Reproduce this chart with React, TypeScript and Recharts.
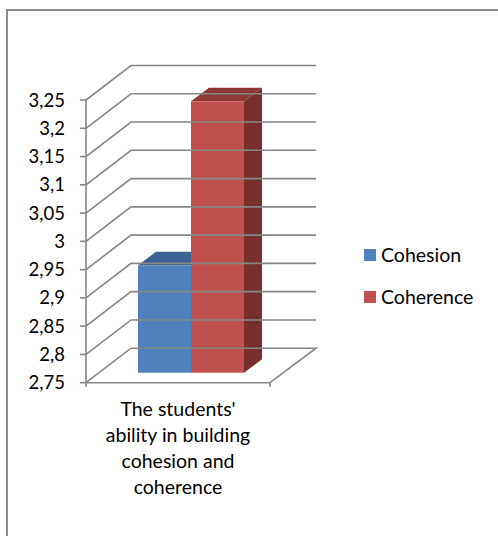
import React from "react";
import { BarChart, Bar, XAxis, YAxis, Legend } from "recharts";

const categories = ["The students' ability in building cohesion and coherence"];
const categoryLines = ["The students'", "ability in building", "cohesion and", "coherence"];
const cohesionValues = [2.94];
const coherenceValues = [3.23];
const yTicks = [2.75, 2.8, 2.85, 2.9, 2.95, 3, 3.05, 3.1, 3.15, 3.2, 3.25];

const data = categories.map((c, i) => ({
  category: c,
  Cohesion: cohesionValues[i],
  Coherence: coherenceValues[i],
}));

const FONT = "Lato, 'Open Sans', sans-serif";
const GRID = "#868686";
const LINE = 1.6;
const WALL_DX = 45;
const WALL_DY = 34.5;
const WALL_W = 185;

const YTick = (props: any) => {
  const { x, y, payload } = props;
  const isFloor = payload.value === yTicks[0];
  const bx = x + WALL_DX;
  const by = y - WALL_DY;
  return (
    <g>
      <path
        d={`M${x} ${y}L${bx} ${by}L${bx + WALL_W} ${by}${isFloor ? `L${x + 184} ${y}` : ""}`}
        fill="none"
        stroke={GRID}
        strokeWidth={LINE}
      />
      <line x1={x - 6} y1={y} x2={x} y2={y} stroke={GRID} strokeWidth={LINE} />
      <text x={x - 21} y={y + 6.5} textAnchor="end" fontFamily={FONT} fontSize={18.5} fill="#000">
        {String(payload.value).replace(".", ",")}
      </text>
    </g>
  );
};

const XTick = (props: any) => {
  const { x, y } = props;
  return (
    <g>
      <line x1={x - 92} y1={y} x2={x - 92} y2={y + 4} stroke={GRID} strokeWidth={LINE} />
      <line x1={x + 92} y1={y} x2={x + 92} y2={y + 4} stroke={GRID} strokeWidth={LINE} />
      <text textAnchor="middle" fontFamily={FONT} fontSize={19.5} fill="#000">
        {categoryLines.map((l, i) => (
          <tspan key={l} x={x} y={y + 33 + i * 26}>
            {l}
          </tspan>
        ))}
      </text>
    </g>
  );
};

const Box3D = (dark: string, side: string) => (props: any) => {
  const { x, y, width, height, fill } = props;
  const dx = 18;
  const dy = 13.5;
  const ox = x + 13;
  const oy = y - 10;
  return (
    <g>
      <path d={`M${ox} ${oy}L${ox + dx} ${oy - dy}L${ox + width + dx} ${oy - dy}L${ox + width} ${oy}Z`} fill={dark} />
      <path
        d={`M${ox + width} ${oy}L${ox + width + dx} ${oy - dy}L${ox + width + dx} ${oy + height - dy}L${ox + width} ${oy + height}Z`}
        fill={side}
      />
      <rect x={ox} y={oy} width={width} height={height} fill={fill} />
    </g>
  );
};

const LegendContent = (props: any) => (
  <div style={{ position: "relative", width: 134, height: 70 }}>
    {(props.payload || []).map((p: any, i: number) => (
      <div key={p.value} style={{ position: "absolute", left: 0, top: i * 42 }}>
        <div style={{ position: "absolute", left: 0, top: 0, width: 12, height: 12, background: p.color }} />
        <div
          style={{
            position: "absolute",
            left: 17,
            top: -6,
            fontFamily: FONT,
            fontSize: 19.5,
            lineHeight: "24px",
            color: "#000",
          }}
        >
          {p.value}
        </div>
      </div>
    ))}
  </div>
);

export default function App() {
  return (
    <div style={{ position: "absolute", left: 0, top: 0, width: 498, height: 536, overflow: "hidden", background: "#fff" }}>
      <div
        style={{
          position: "absolute",
          left: 5.5,
          top: 9,
          width: 600,
          height: 700,
          border: "2px solid #8c8c8c",
        }}
      />
      <div style={{ position: "absolute", left: 0, top: 0 }}>
        <BarChart
          width={498}
          height={536}
          data={data}
          margin={{ top: 100, right: 94, bottom: 0, left: 0 }}
          barCategoryGap={39}
          barGap={0}
        >
          <YAxis
            type="number"
            domain={[2.75, 3.25]}
            ticks={yTicks}
            interval={0}
            width={86}
            axisLine={{ stroke: GRID, strokeWidth: LINE }}
            tickLine={false}
            tickSize={0}
            tickMargin={0}
            tick={<YTick />}
          />
          <XAxis
            dataKey="category"
            height={153.3}
            axisLine={{ stroke: GRID, strokeWidth: LINE }}
            tickLine={false}
            tickSize={0}
            tickMargin={0}
            interval={0}
            tick={<XTick />}
          />
          <Legend
            layout="vertical"
            align="right"
            verticalAlign="middle"
            width={134}
            itemSorter={null}
            wrapperStyle={{ left: 364, top: 249, right: "auto", bottom: "auto", width: 134 }}
            content={<LegendContent />}
          />
          <Bar dataKey="Cohesion" name="Cohesion" fill="#4f81bd" isAnimationActive={false} shape={Box3D("#3e6391", "#385d8a")} />
          <Bar dataKey="Coherence" name="Coherence" fill="#c0504d" isAnimationActive={false} shape={Box3D("#8e3836", "#772f2e")} />
        </BarChart>
      </div>
    </div>
  );
}
